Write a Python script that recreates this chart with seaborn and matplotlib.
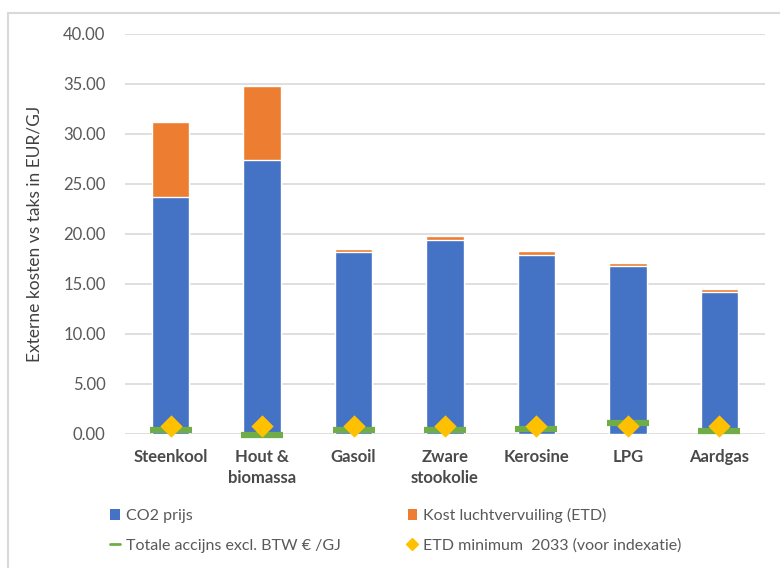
import matplotlib
matplotlib.use("Agg")
import matplotlib.pyplot as plt
from matplotlib.lines import Line2D
from matplotlib.patches import Patch, Rectangle
import seaborn as sns
import pandas as pd

# Fuel types and cost components (EUR/GJ)
brandstoffen = ["Steenkool", "Hout &\nbiomassa", "Gasoil", "Zware\nstookolie",
                "Kerosine", "LPG", "Aardgas"]
co2_prijs = [23.7, 27.4, 18.2, 19.4, 17.9, 16.8, 14.2]
luchtvervuiling = [7.5, 7.4, 0.3, 0.4, 0.4, 0.3, 0.3]
accijns = [0.4, -0.1, 0.4, 0.4, 0.5, 1.1, 0.3]
etd_minimum = [0.85, 0.85, 0.85, 0.85, 0.85, 0.85, 0.85]
y_ticks = [0, 5, 10, 15, 20, 25, 30, 35, 40]

df = pd.DataFrame({
    "brandstof": brandstoffen,
    "co2": co2_prijs,
    "lucht": luchtvervuiling,
    "accijns": accijns,
    "etd": etd_minimum,
})
df["totaal"] = df["co2"] + df["lucht"]

sns.set_theme(style="white")
plt.rcParams["font.family"] = ["Lato", "DejaVu Sans"]

BLUE = "#4472C4"
ORANGE = "#ED7D31"
GREEN = "#70AD47"
GOLD = "#FFC000"
GRID = "#D9D9D9"
TXT = "#595959"

fig = plt.figure(figsize=(7.8, 5.68), dpi=100)
ax = fig.add_axes([125 / 780, 1 - 434 / 568, 640 / 780, 400 / 568])

# stacked bars: total first (orange top), CO2 part on top of it
sns.barplot(data=df, x="brandstof", y="totaal", color=ORANGE, saturation=1,
            width=0.41, ax=ax, zorder=2)
sns.barplot(data=df, x="brandstof", y="co2", color=BLUE, saturation=1,
            width=0.41, ax=ax, zorder=3)

# excise level per fuel as a short thick line
ax.hlines(df["accijns"], [i - 0.23 for i in range(len(df))],
          [i + 0.23 for i in range(len(df))], colors=GREEN, linewidth=4.5,
          zorder=4, clip_on=False)

# ETD minimum as diamonds
sns.scatterplot(data=df, x="brandstof", y="etd", marker="D", s=130,
                color=GOLD, linewidth=0, ax=ax, zorder=5, legend=False,
                clip_on=False)

ax.set_ylim(0, 40)
ax.set_xlim(-0.5, len(df) - 0.5)
ax.set_yticks(y_ticks)
ax.set_yticklabels([f"{v:.2f}" for v in y_ticks], color=TXT, fontsize=12)
ax.yaxis.grid(True, color=GRID, linewidth=1.2, zorder=0)
ax.set_axisbelow(True)
for s in ["top", "right", "left", "bottom"]:
    ax.spines[s].set_visible(False)
ax.tick_params(axis="both", length=0, pad=14)
ax.tick_params(axis="x", pad=11)
for lbl in ax.get_xticklabels():
    lbl.set_fontweight("bold")
    lbl.set_color("#4a4a4a")
    lbl.set_fontsize(12)
    lbl.set_linespacing(1.35)
ax.set_xlabel("")
ax.set_ylabel("Externe kosten vs taks in EUR/GJ", fontsize=12.5, color="#404040",
              labelpad=15)

handles = [
    Patch(facecolor=BLUE, edgecolor="none"),
    Line2D([], [], color=GREEN, linewidth=2),
    Patch(facecolor=ORANGE, edgecolor="none"),
    Line2D([], [], color=GOLD, marker="D", markersize=6, linestyle="none"),
]
labels = ["CO2 prijs", "Totale accijns excl. BTW € /GJ",
          "Kost luchtvervuiling (ETD)", "ETD minimum  2033 (voor indexatie)"]
fig.legend(handles, labels, ncol=2, loc="upper left",
           bbox_to_anchor=(96 / 780, 1 - 494 / 568), frameon=False,
           fontsize=11.5, labelcolor=TXT, handlelength=0.6, handleheight=0.7,
           handletextpad=0.35, columnspacing=4.2, labelspacing=0.95)

fig.patches.append(Rectangle((8 / 780, -0.01), 1.0, 1 - 13 / 568 + 0.01,
                             transform=fig.transFigure, fill=False,
                             edgecolor=GRID, linewidth=1.5))

fig.savefig("out.png", dpi=100, facecolor="white")
